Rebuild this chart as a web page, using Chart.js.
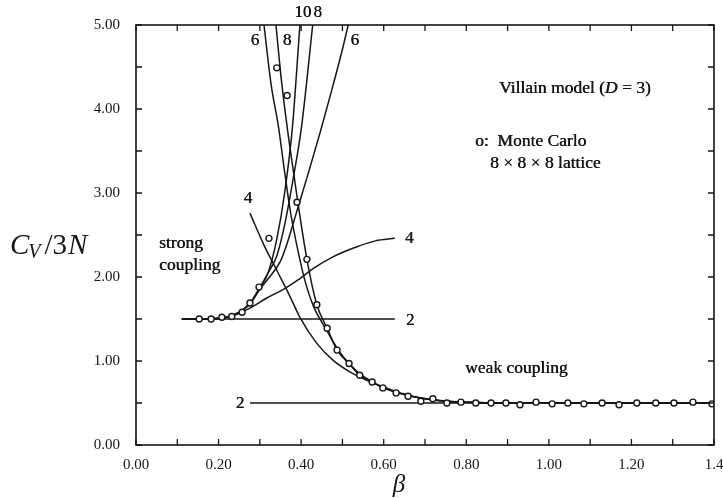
<!DOCTYPE html>
<html>
<head>
<meta charset="utf-8">
<script src="https://cdn.jsdelivr.net/npm/chart.js@4"></script>
<style>
  html, body { margin: 0; padding: 0; background: #fff; }
  #wrap { position: relative; width: 723px; height: 498px; }
</style>
</head>
<body>
<div id="wrap"><canvas id="cvChart"></canvas></div>
<script>
// Monte Carlo, 8x8x8 lattice
const mcBeta = [0.153, 0.182, 0.208, 0.232, 0.257, 0.276, 0.298, 0.322, 0.341, 0.366,
                0.390, 0.414, 0.438, 0.463, 0.487, 0.516, 0.542, 0.572, 0.598, 0.630,
                0.659, 0.690, 0.719, 0.753, 0.787, 0.823, 0.860, 0.896, 0.930, 0.969,
                1.008, 1.046, 1.085, 1.129, 1.170, 1.213, 1.259, 1.303, 1.349, 1.395];
const mcCv = [1.50, 1.50, 1.52, 1.53, 1.58, 1.69, 1.88, 2.46, 4.49, 4.16,
              2.89, 2.21, 1.67, 1.39, 1.13, 0.97, 0.83, 0.75, 0.68, 0.62,
              0.58, 0.52, 0.55, 0.50, 0.51, 0.50, 0.50, 0.50, 0.48, 0.51,
              0.49, 0.50, 0.49, 0.50, 0.48, 0.50, 0.50, 0.50, 0.51, 0.49];

// strong coupling expansion, orders 2..10
const strong2Beta = [0.111, 0.627];
const strong2Cv = [1.5, 1.5];
const strong4Beta = [0.111, 0.15, 0.2, 0.235, 0.276, 0.317, 0.356, 0.397, 0.429, 0.477, 0.535, 0.58, 0.627];
const strong4Cv = [1.5, 1.5, 1.51, 1.54, 1.63, 1.75, 1.85, 1.98, 2.10, 2.24, 2.36, 2.43, 2.46];
const strong6Beta = [0.111, 0.2, 0.25, 0.276, 0.298, 0.32, 0.349, 0.366, 0.39, 0.414, 0.446, 0.47, 0.499, 0.514];
const strong6Cv = [1.5, 1.51, 1.58, 1.68, 1.84, 1.98, 2.18, 2.40, 2.79, 3.18, 3.72, 4.15, 4.69, 5.0];
const strong8Beta = [0.111, 0.18, 0.22, 0.25, 0.276, 0.298, 0.32, 0.341, 0.36, 0.38, 0.401, 0.428];
const strong8Cv = [1.5, 1.5, 1.52, 1.58, 1.69, 1.86, 2.05, 2.25, 2.62, 3.15, 3.79, 5.0];
const strong10Beta = [0.111, 0.18, 0.22, 0.25, 0.276, 0.298, 0.32, 0.341, 0.36, 0.379, 0.397];
const strong10Cv = [1.5, 1.5, 1.52, 1.58, 1.68, 1.85, 2.05, 2.45, 3.0, 3.79, 5.0];

// weak coupling expansion, orders 2..8
const weak2Beta = [0.276, 1.4];
const weak2Cv = [0.5, 0.5];
const weak4Beta = [0.276, 0.31, 0.341, 0.37, 0.397, 0.438, 0.477, 0.518, 0.559, 0.6, 0.64, 0.68, 0.72, 0.8, 0.9, 1.0, 1.4];
const weak4Cv = [2.76, 2.38, 2.08, 1.80, 1.52, 1.21, 1.01, 0.87, 0.77, 0.69, 0.62, 0.57, 0.54, 0.51, 0.5, 0.5, 0.5];
const weak6Beta = [0.310, 0.327, 0.345, 0.36, 0.375, 0.392, 0.409, 0.43, 0.46, 0.49, 0.52, 0.55, 0.6, 0.65, 0.7, 0.75, 0.8, 0.9, 1.4];
const weak6Cv = [5.0, 4.3, 3.79, 3.25, 2.75, 2.32, 1.96, 1.65, 1.38, 1.13, 0.95, 0.82, 0.68, 0.6, 0.55, 0.52, 0.51, 0.5, 0.5];
const weak8Beta = [0.339, 0.352, 0.366, 0.38, 0.392, 0.414, 0.438, 0.463, 0.487, 0.516, 0.542, 0.572, 0.6, 0.65, 0.7, 0.75, 0.8, 0.9, 1.4];
const weak8Cv = [5.0, 4.35, 3.79, 3.3, 2.89, 2.21, 1.67, 1.39, 1.13, 0.97, 0.83, 0.75, 0.68, 0.6, 0.55, 0.52, 0.51, 0.5, 0.5];

// order labels written next to the curves: [text, beta, Cv]
const orderLabels = [
  ["2", 0.664, 1.48], ["4", 0.662, 2.46],
  ["2", 0.252, 0.49], ["4", 0.271, 2.93],
  ["6", 0.288, 4.82], ["8", 0.366, 4.82], ["6", 0.530, 4.81],
  ["10", 0.404, 5.15], ["8", 0.440, 5.15]
];

const xTicks = [0, 0.2, 0.4, 0.6, 0.8, 1.0, 1.2, 1.4];

const INK = "#161616";
const SERIF = '"Liberation Serif", "DejaVu Serif", serif';

function pts(bs, cs) {
  return bs.map((b, i) => ({ x: b, y: cs[i] }));
}

function curve(bs, cs) {
  return {
    type: "line",
    data: pts(bs, cs),
    borderColor: INK,
    borderWidth: 1.5,
    pointRadius: 0,
    fill: false,
    cubicInterpolationMode: "monotone",
    order: 2
  };
}

// text filled twice, a hair apart, so it reads as heavy as the printed labels
function inkText(ctx, t, x, y) {
  ctx.fillText(t, x, y);
  ctx.fillText(t, x + 0.4, y);
}

// box round the plot with inward ticks on all four sides
function drawFrame(ctx, xs, ys) {
  const L = Math.round(xs.left), R = Math.round(xs.right);
  const T = Math.round(ys.top), B = Math.round(ys.bottom);
  ctx.save();
  ctx.strokeStyle = INK;
  ctx.lineWidth = 1.6;
  ctx.strokeRect(L, T, R - L, B - T);
  ctx.lineWidth = 1.3;
  ctx.beginPath();
  for (let i = 0; i <= 14; i++) {
    const px = xs.getPixelForValue(i / 10);
    ctx.moveTo(px, B); ctx.lineTo(px, B - 6);
    ctx.moveTo(px, T); ctx.lineTo(px, T + 6);
  }
  for (let i = 0; i <= 10; i++) {
    const py = ys.getPixelForValue(i / 2);
    ctx.moveTo(L, py); ctx.lineTo(L + 6, py);
    ctx.moveTo(R, py); ctx.lineTo(R - 6, py);
  }
  ctx.stroke();
  ctx.restore();
}

// frame, titles and notes
const decorations = {
  id: "decorations",
  afterDraw(chart) {
    const { ctx, scales } = chart;
    const xs = scales.x, ys = scales.y;
    drawFrame(ctx, xs, ys);

    ctx.save();
    ctx.fillStyle = INK;
    ctx.textBaseline = "middle";
    ctx.textAlign = "center";
    ctx.font = "17px " + SERIF;
    orderLabels.forEach(([t, b, c]) => {
      inkText(ctx, t, xs.getPixelForValue(b), ys.getPixelForValue(c));
    });

    ctx.textAlign = "left";
    ctx.font = "17.5px " + SERIF;
    inkText(ctx, "strong", 159, 243);
    inkText(ctx, "coupling", 159, 265);
    inkText(ctx, "weak coupling", 465, 368);

    let x = 499;
    const vParts = [["Villain model (", ""], ["D", "italic "], [" = 3)", ""]];
    vParts.forEach(([t, st]) => {
      ctx.font = st + "17.5px " + SERIF;
      inkText(ctx, t, x, 88);
      x += ctx.measureText(t).width;
    });
    ctx.font = "17.5px " + SERIF;
    inkText(ctx, "o:  Monte Carlo", 475, 141);
    inkText(ctx, "8 \u00d7 8 \u00d7 8 lattice", 490, 163);

    // y title C_V/3N
    ctx.textBaseline = "alphabetic";
    let tx = 10;
    ctx.font = "italic 29px " + SERIF;
    ctx.fillText("C", tx, 254); tx += ctx.measureText("C").width;
    ctx.font = "italic 20px " + SERIF;
    ctx.fillText("V", tx - 1, 258); tx += ctx.measureText("V").width + 3;
    ctx.font = "29px " + SERIF;
    ctx.fillText("/3", tx, 254); tx += ctx.measureText("/3").width + 1;
    ctx.font = "italic 29px " + SERIF;
    ctx.fillText("N", tx, 254);

    // x title
    ctx.textAlign = "center";
    ctx.font = "italic 25px " + SERIF;
    ctx.fillText("\u03b2", 399, 492);
    ctx.restore();
  }
};

const ctx = document.getElementById("cvChart").getContext("2d");
new Chart(ctx, {
  data: {
    datasets: [
      {
        type: "scatter",
        data: pts(mcBeta, mcCv),
        pointStyle: "circle",
        pointRadius: 3,
        pointBorderWidth: 1.4,
        pointBorderColor: INK,
        pointBackgroundColor: "#fff",
        order: 1
      },
      curve(strong2Beta, strong2Cv),
      curve(strong4Beta, strong4Cv),
      curve(strong6Beta, strong6Cv),
      curve(strong8Beta, strong8Cv),
      curve(strong10Beta, strong10Cv),
      curve(weak2Beta, weak2Cv),
      curve(weak4Beta, weak4Cv),
      curve(weak6Beta, weak6Cv),
      curve(weak8Beta, weak8Cv)
    ]
  },
  options: {
    responsive: true,
    maintainAspectRatio: false,
    animation: false,
    layout: { padding: { top: 24, right: 0, left: 0, bottom: 0 } },
    plugins: { legend: { display: false }, tooltip: { enabled: false } },
    scales: {
      x: {
        type: "linear",
        min: 0,
        max: 1.4,
        afterBuildTicks(s) { s.ticks = xTicks.map(v => ({ value: v })); },
        afterFit(s) { s.height = 53; s.paddingRight = 9; },
        ticks: {
          autoSkip: false,
          maxRotation: 0,
          padding: 11,
          color: INK,
          font: { family: SERIF, size: 15 },
          callback: v => (v === 1.4 ? "1.4" : v.toFixed(2))
        },
        grid: { drawOnChartArea: false, drawTicks: false },
        border: { display: false }
      },
      y: {
        type: "linear",
        min: 0,
        max: 5,
        afterBuildTicks(s) { s.ticks = [0, 1, 2, 3, 4, 5].map(v => ({ value: v })); },
        afterFit(s) { s.width = 136; },
        ticks: {
          padding: 16,
          color: INK,
          font: { family: SERIF, size: 15 },
          callback: v => v.toFixed(2)
        },
        grid: { drawOnChartArea: false, drawTicks: false },
        border: { display: false }
      }
    }
  },
  plugins: [decorations]
});
</script>
</body>
</html>
